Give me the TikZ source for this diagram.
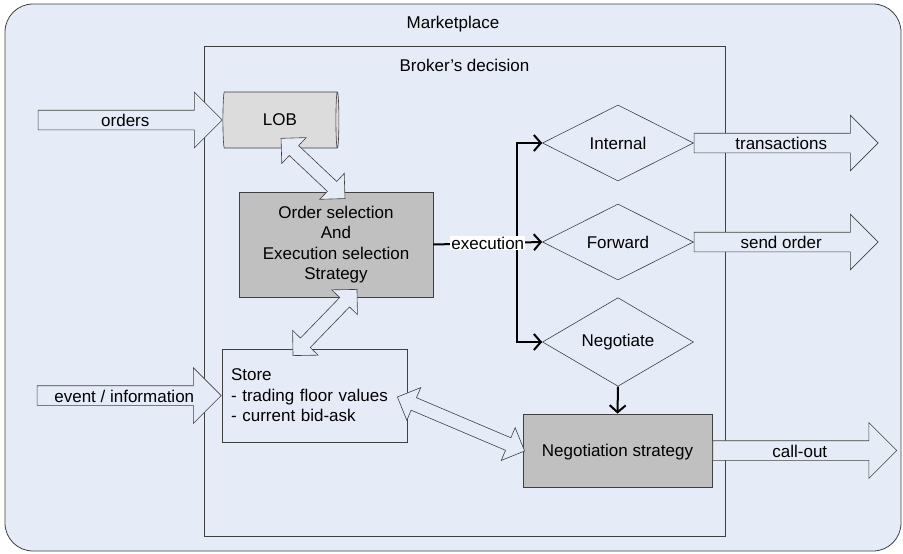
\documentclass[tikz,border=0pt]{standalone}
\usepackage{fontspec}
\setmainfont{Liberation Sans}
\usetikzlibrary{shapes.geometric,shapes.arrows,arrows.meta,calc}
\definecolor{mktblue}{RGB}{230,236,247}
\definecolor{boxgray}{RGB}{192,192,192}
\definecolor{lobgray}{RGB}{220,220,220}
\definecolor{edge}{RGB}{64,64,64}
\tikzset{
  every node/.style={font=\fontsize{17}{20.5}\selectfont},
  frame/.style={draw=edge, line width=0.8pt, inner sep=0pt},
  box/.style={draw=edge, line width=0.8pt, inner sep=0pt, align=center},
  decision/.style={diamond, draw=edge, line width=0.6pt, fill=mktblue, minimum width=151pt, minimum height=76pt, inner sep=0pt},
  bigarrow/.style={single arrow, draw=edge, line width=0.6pt, fill=mktblue, single arrow head extend=18pt, single arrow tip angle=90, minimum width=54pt, minimum height=184pt, inner xsep=0pt, inner ysep=2pt, text height=14pt, text depth=1pt},
  twoway/.style={double arrow, draw=edge, line width=0.6pt, fill=mktblue, double arrow head extend=11pt, double arrow tip angle=90, minimum width=35pt, inner xsep=0pt, inner ysep=6.5pt, text height=0pt, text depth=0pt},
  flow/.style={line width=2pt, -{Straight Barb[length=7pt,width=16pt]}}
}
\newcommand\twowayarrow[3]{\path let \p1=(#2), \p2=(#3), \n1={atan2(\y2-\y1,\x2-\x1)}, \n2={veclen(\x2-\x1,\y2-\y1)} in node[twoway, rotate=\n1, minimum height=\n2] (#1) at ($(\p1)!0.5!(\p2)$) {};}
\begin{document}
\begin{tikzpicture}[x=1pt,y=-1pt]
  \useasboundingbox (0,0) rectangle (903,554);
  \node[frame, rounded corners=28pt, fill=mktblue, minimum width=896pt, minimum height=547pt] (market) at (453,277.5) {};
  \node[anchor=base] (marketlbl) at ([yshift=-25pt]market.north) {Marketplace};
  \node[frame, minimum width=521pt, minimum height=490pt] (broker) at (464.5,291) {};
  \node[anchor=base] (brokerlbl) at ([yshift=-26pt]broker.north) {Broker’s decision};

  \node[cylinder, draw=edge, line width=0.6pt, fill=lobgray, aspect=0.25, minimum height=116pt, minimum width=56pt, inner sep=0pt] (lob) at (280,120) {LOB};
  \node[box, fill=boxgray, minimum width=194pt, minimum height=105pt] (ordsel) at (336,244.5) {Order selection\\And\\Execution selection\\Strategy};
  \node[box, fill=mktblue, align=left, text width=167pt, inner xsep=9pt, minimum height=93pt] (store) at (314.5,395.5) {Store\\- trading floor values\\- current bid-ask};
  \node[box, fill=boxgray, minimum width=189pt, minimum height=73pt, text depth=1pt] (negstr) at (617.5,450.5) {Negotiation strategy};
  \node[decision] (internal) at (618,143) {Internal};
  \node[decision] (forward) at (618,242) {Forward};
  \node[decision] (negotiate) at (618,342) {Negotiate};

  \node[bigarrow, anchor=tip] (orders) at (lob.west) {orders};
  \node[bigarrow, anchor=tip] (eventinfo) at (store.west) {event / information};
  \node[bigarrow, anchor=tail] (transactions) at (internal.east) {transactions};
  \node[bigarrow, anchor=tail] (sendorder) at (forward.east) {send order};
  \node[bigarrow, anchor=tail] (callout) at (negstr.east) {call-out};

  \twowayarrow{lobsel}{[shift={(1,-10)}]lob.south}{[shift={(9,7)}]ordsel.north}
  \twowayarrow{selstore}{[shift={(21,-8)}]ordsel.south}{[shift={(-21.5,7)}]store.north}
  \twowayarrow{storeneg}{[shift={(-10,1.5)}]store.east}{[shift={(2,0.5)}]negstr.west}

  \coordinate (split) at (517,242);
  \draw[flow] (split) |- (internal.west);
  \draw[flow] (split) |- (negotiate.west);
  \draw[flow] (ordsel.east) -- node[fill=white, inner sep=1pt] (exec) {execution} (forward.west);
  \draw[flow] (negotiate.south) -- (negstr.north);
\end{tikzpicture}
\end{document}
